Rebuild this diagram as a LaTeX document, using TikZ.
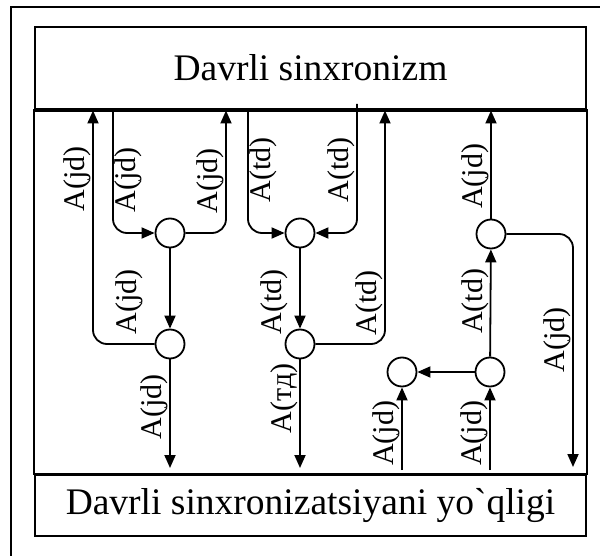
\documentclass[tikz,border=0pt]{standalone}
\usepackage{fontspec}
\setmainfont{Liberation Serif}[Ligatures=TeXOff]
\usetikzlibrary{arrows.meta, positioning}

\begin{document}
\begin{tikzpicture}[x=1pt, y=1pt,
  every node/.style={font=\fontsize{30}{32}\selectfont},
  panel/.style={rectangle, draw, line width=1.8pt, minimum width=551pt,
                inner sep=0pt, font=\fontsize{37.5}{40}\selectfont},
  comb/.style={circle, draw, line width=1.8pt, minimum size=29pt, inner sep=0pt},
  arr/.style={-{Triangle[length=13pt, width=11pt]}, line width=1.8pt, rounded corners=14pt},
  lab/.style={rotate=90, anchor=south, inner sep=1pt},
  labr/.style={rotate=90, anchor=north, inner sep=1pt},
]
\useasboundingbox (0,0) rectangle (600,-556);

% frame
\draw[line width=2pt] (11,-556) -- (11,-7) -- (600,-7);

\node[panel, minimum height=82pt] (sync)   at (310.5,-68)    {Davrli sinxronizm};
\node[panel, minimum height=61pt] (nosync) at (310.5,-505.5) {Davrli sinxronizatsiyani yo`qligi};
\draw[line width=1.8pt] (sync.south west) rectangle (nosync.north east);
\draw[line width=3.5pt] (sync.south west) -- (sync.south east);

\node[comb] (c1) at (170,-233) {};
\node[comb] (c2) at (170,-344) {};
\node[comb] (c3) at (300,-233) {};
\node[comb] (c4) at (300,-344) {};
\node[comb] (c5) at (491,-234) {};
\node[comb] (c6) at (490,-372) {};
\node[comb] (c7) at (402,-372) {};

\coordinate (ua) at (93,-110.5);
\coordinate (ub) at (113,-109);
\coordinate (uc) at (226,-110.5);
\coordinate (ud) at (248,-109);
\coordinate (ue) at (357,-104);
\coordinate (uf) at (385,-110.5);
\coordinate (u5) at (491,-110.5);
\coordinate (d2) at (170,-468);
\coordinate (d4) at (300,-468);
\coordinate (di) at (573,-467);
\coordinate (bg) at (402,-470);
\coordinate (bh) at (490,-470);

\draw[arr] (c2.west) -| node[lab, pos=0.853] {A(jd)} (ua);
\draw[arr] (ub) |- node[labr, pos=0.286] {A(jd)} (c1.west);
\draw[arr] (c1.east) -| node[lab, pos=0.714] {A(jd)} (uc);
\draw[arr] (c1) -- (c2);
\node[lab] (l12) at (144,-302) {A(jd)};
\draw[arr] (c2) -- node[lab, pos=0.434] {A(jd)} (d2);

\draw[arr] (ud) |- node[labr, pos=0.246] {A(td)} (c3.west);
\draw[arr] (ue) |- node[lab, pos=0.254] {A(td)} (c3.east);
\draw[arr] (c3) -- (c4);
\node[lab] (l34) at (289,-302) {A(td)};
\draw[arr] (c4.east) -| node[lab, pos=0.5875] {A(td)} (uf);
\draw[arr] (c4) -- node[lab, pos=0.36] {A(тд)} (d4);

\draw[arr] (bg) -- node[lab, pos=0.443] {A(jd)} (c7);
\draw[arr] (bh) -- node[lab, pos=0.443] {A(jd)} (c6);
\draw[arr] (c6) -- (c7);
\draw[arr] (c6) -- node[lab, pos=0.514] {A(td)} (c5);
\draw[arr] (c5) -- node[lab, pos=0.39] {A(jd)} (u5);
\draw[arr] (c5.east) -| node[lab, pos=0.727] {A(jd)} (di);

\end{tikzpicture}
\end{document}
